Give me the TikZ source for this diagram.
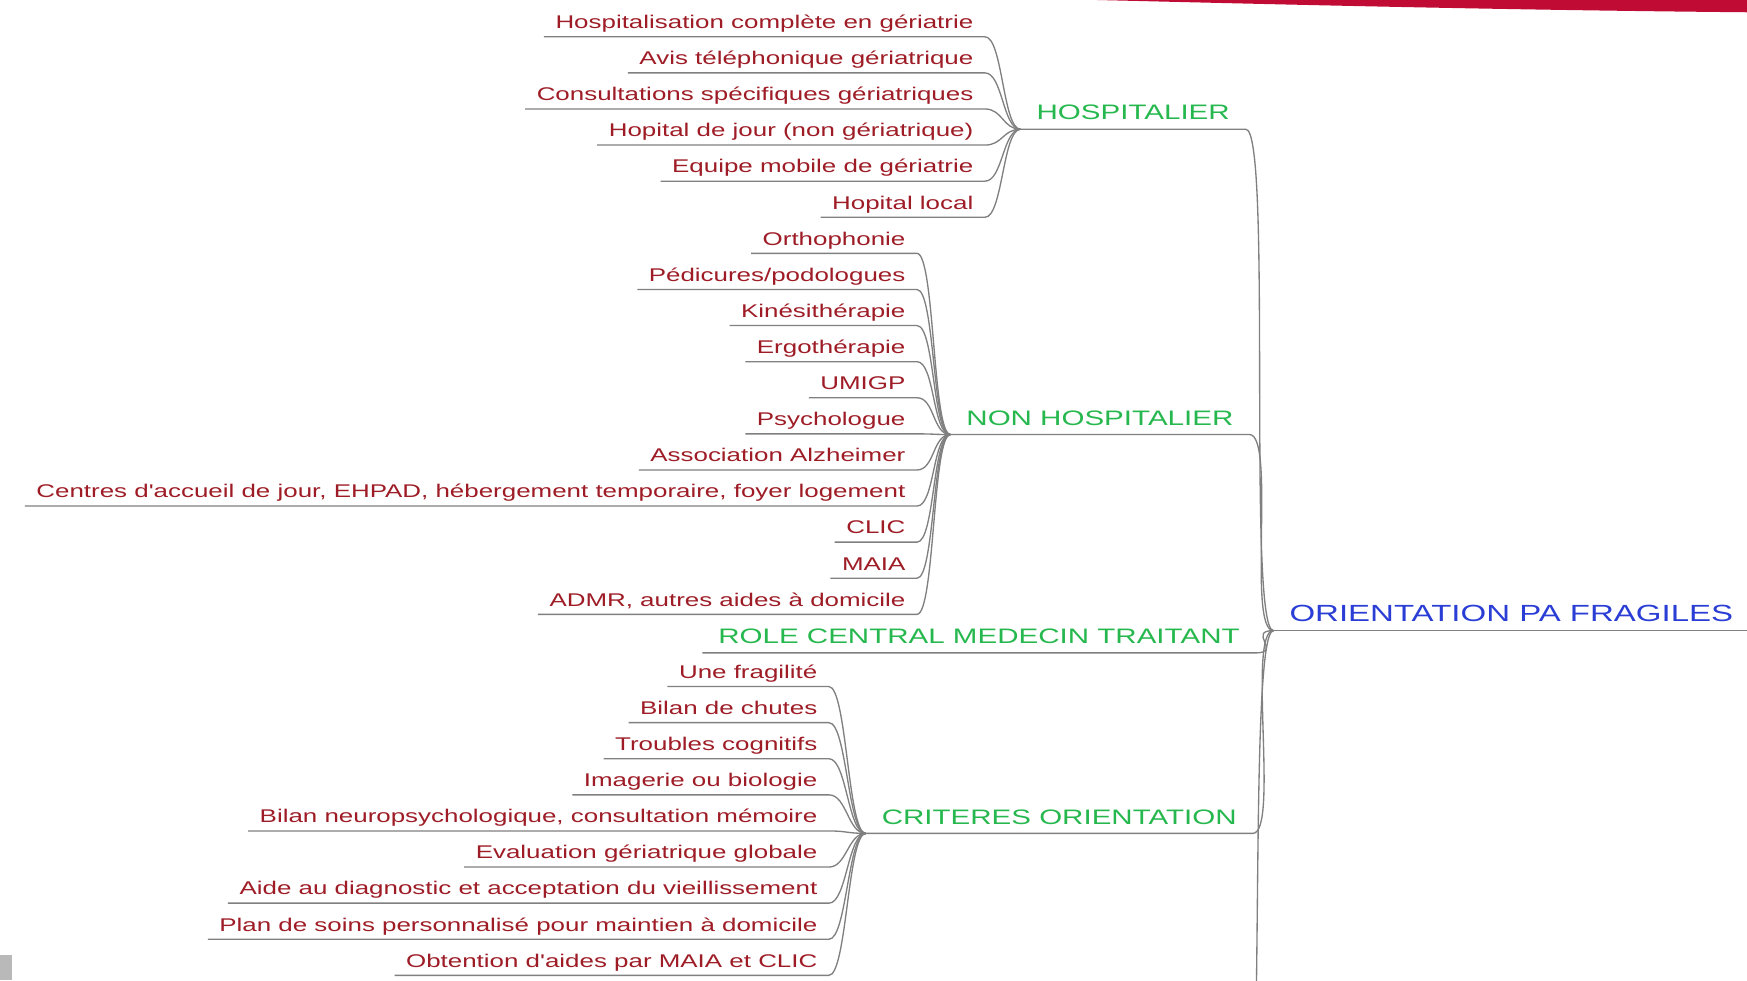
\documentclass[tikz,border=0pt]{standalone}
\usepackage{fontspec}
\newfontfamily\mapfont{Liberation Sans}[FakeStretch=1.41]
\definecolor{leafred}{RGB}{158,28,38}
\definecolor{branchgreen}{RGB}{38,184,78}
\definecolor{rootblue}{RGB}{42,62,214}
\definecolor{linkgray}{RGB}{128,128,128}
\definecolor{swoosh}{RGB}{192,12,52}

\begin{document}
\begin{tikzpicture}
  [x=0.5pt, y=-0.5pt,
    leaf/.style={%
      anchor=south east, text=leafred,
      font=\mapfont\fontsize{8.25}{10}\selectfont,
      inner xsep=5pt, inner ysep=3.5pt, text depth=0pt
    },
    branch/.style={%
      text=branchgreen, font=\mapfont\fontsize{9.4}{11}\selectfont,
      inner xsep=7pt, inner ysep=4pt, text depth=0pt
    },
    rootnode/.style={%
      anchor=south west, text=rootblue,
      font=\mapfont\fontsize{10.5}{12}\selectfont,
      inner xsep=7pt, inner ysep=4pt, text depth=0pt
    },
    link/.style={%
      draw=linkgray, line width=0.6pt
    },
  ]
  \clip (0,0) rectangle (1568,880);

  \fill[swoosh] (985,0) .. controls (1150,4) and (1350,9) .. (1568,11)
    -- (1568,-4) -- (985,-4) -- cycle;
  \fill[gray!55] (0,857) rectangle (11,880);

  \node[rootnode] (root) at (1143,566) {ORIENTATION PA FRAGILES};
  \draw[link] (root.south west) -- (root.south east);

  \node[branch, anchor=south west] (hos) at (916,116) {HOSPITALIER};
  \node[branch, anchor=south west] (nonhos) at (853,390) {NON HOSPITALIER};
  \node[branch, anchor=south east] (role) at (1127,586) {ROLE CENTRAL MEDECIN TRAITANT};
  \node[branch, anchor=south west] (crit) at (777,748) {CRITERES ORIENTATION};
  \coordinate (more) at (1114,1060);

  \foreach \b in {hos,nonhos,role,crit}
    \draw[link] (\b.south west) -- (\b.south east)
      to[out=0,in=180,distance=12pt] (root.south west);
  \draw[link] (more) to[out=0,in=180,distance=12pt] (root.south west);

  % hospitalier
  \foreach \txt [count=\i from 0] in {Hospitalisation complète en gériatrie,
      Avis téléphonique gériatrique, Consultations spécifiques gériatriques,
      Hopital de jour (non gériatrique), Equipe mobile de gériatrie,
      Hopital local}{
    \node[leaf] (h\i) at (884,33+32.4*\i) {\txt};
    \draw[link] (h\i.south west) -- (h\i.south east)
      to[out=0,in=180,distance=8pt] (hos.south west);
  }

  % non hospitalier
  \foreach \txt [count=\i from 0] in {Orthophonie, Pédicures/podologues,
      Kinésithérapie, Ergothérapie, UMIGP, Psychologue, Association Alzheimer,
      {Centres d'accueil de jour, EHPAD, hébergement temporaire, foyer logement},
      CLIC, MAIA, {ADMR, autres aides à domicile}}{
    \node[leaf] (n\i) at (823,227.4+32.4*\i) {\txt};
    \draw[link] (n\i.south west) -- (n\i.south east)
      to[out=0,in=180,distance=8pt] (nonhos.south west);
  }

  % criteres
  \foreach \txt [count=\i from 0] in {Une fragilité, Bilan de chutes,
      Troubles cognitifs, Imagerie ou biologie,
      {Bilan neuropsychologique, consultation mémoire},
      Evaluation gériatrique globale,
      Aide au diagnostic et acceptation du vieillissement,
      Plan de soins personnalisé pour maintien à domicile,
      Obtention d'aides par MAIA et CLIC}{
    \node[leaf] (c\i) at (744,616.2+32.4*\i) {\txt};
    \draw[link] (c\i.south west) -- (c\i.south east)
      to[out=0,in=180,distance=8pt] (crit.south west);
  }

\end{tikzpicture}
\end{document}
